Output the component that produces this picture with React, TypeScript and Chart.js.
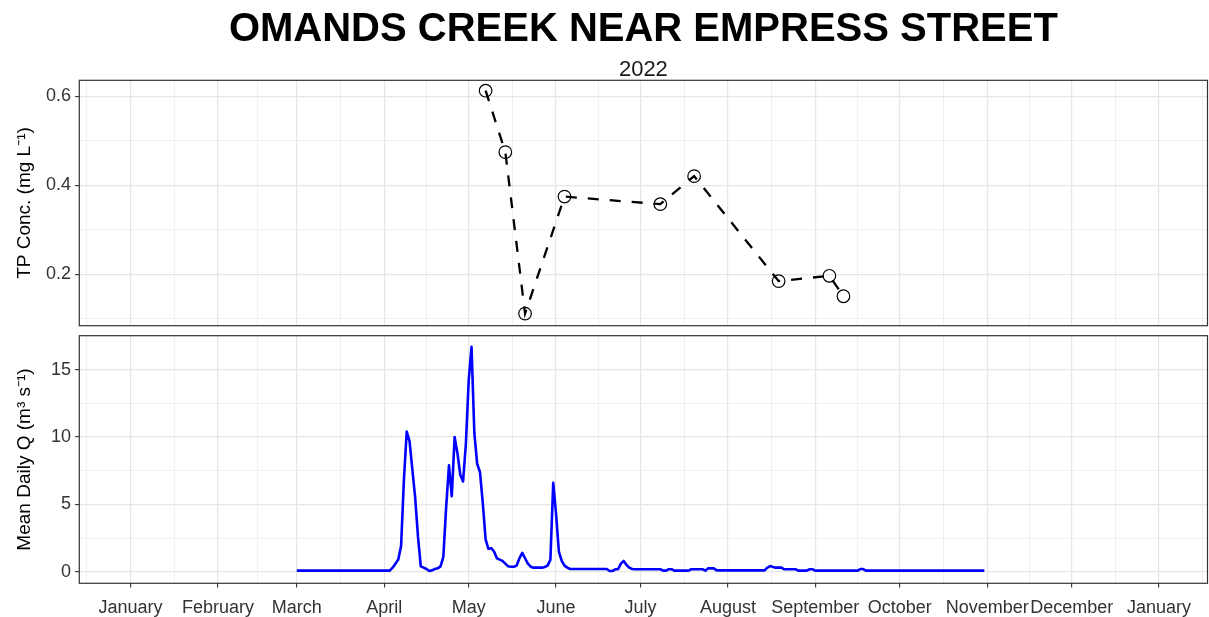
import React, { useEffect, useRef } from 'react';
import { Chart, registerables } from 'chart.js';

Chart.register(...registerables);

// ---------------- data ----------------
const TITLE = 'OMANDS CREEK NEAR EMPRESS STREET';
const SUBTITLE = '2022';
const TP_AXIS_TITLE = 'TP Conc. (mg L⁻¹)';
const Q_AXIS_TITLE = 'Mean Daily Q (m³ s⁻¹)';

const MONTH_LABELS = ['January', 'February', 'March', 'April', 'May', 'June', 'July', 'August', 'September', 'October', 'November', 'December', 'January'];
const MONTH_STARTS = ['2022-01-01', '2022-02-01', '2022-03-01', '2022-04-01', '2022-05-01', '2022-06-01', '2022-07-01', '2022-08-01', '2022-09-01', '2022-10-01', '2022-11-01', '2022-12-01', '2023-01-01'];
const OUTER_BREAKS = ['2021-12-01', '2023-02-01'];

const TP_DATES = ['2022-05-07', '2022-05-14', '2022-05-21', '2022-06-04', '2022-07-08', '2022-07-20', '2022-08-19', '2022-09-06', '2022-09-11'];
const TP_VALUES = [0.613, 0.475, 0.112, 0.375, 0.358, 0.421, 0.185, 0.197, 0.151];

const TP_Y_MAJOR = [0.2, 0.4, 0.6];
const TP_Y_MINOR = [0.1, 0.3, 0.5];
const Q_Y_MAJOR = [0, 5, 10, 15];
const Q_Y_MINOR = [2.5, 7.5, 12.5];

const FLOW_START = '2022-03-01';
const FLOW_VALUES = [
  // March 1 - April 2
  0.08, 0.08, 0.08, 0.08, 0.08, 0.08, 0.08, 0.08, 0.08, 0.08,
  0.08, 0.08, 0.08, 0.08, 0.08, 0.08, 0.08, 0.08, 0.08, 0.08,
  0.08, 0.08, 0.08, 0.08, 0.08, 0.08, 0.08, 0.08, 0.08, 0.08,
  0.08, 0.08, 0.08, 0.08,
  // April 3 onwards
  0.3, 0.6, 0.9, 1.9, 6.8, 10.4, 9.7, 7.6, 5.5, 2.6,
  0.4, 0.3, 0.2, 0.05, 0.1, 0.2, 0.25, 0.4, 1.1, 4.8,
  7.9, 5.6, 10.0, 8.8, 7.2, 6.7, 9.5, 14.2, 16.7, 10.3,
  8.0, 7.4, 5.1, 2.4, 1.7, 1.75, 1.5, 1.0, 0.9, 0.8,
  0.6, 0.4, 0.37, 0.37, 0.45, 1.0, 1.4, 1.0, 0.6, 0.37,
  0.3, 0.3, 0.3, 0.3, 0.35, 0.45, 0.9, 6.6, 4.3, 1.5,
  0.8, 0.45, 0.3,
  0.2, 0.2, 0.2, 0.2, 0.2, 0.2, 0.2, 0.2, 0.2, 0.2, 0.2, 0.2, 0.2, 0.2,
  0.05, 0.05, 0.18, 0.18, 0.6, 0.8, 0.5, 0.3, 0.2,
  0.18, 0.18, 0.18, 0.18, 0.18, 0.18, 0.18, 0.18, 0.18, 0.18,
  0.08, 0.08, 0.18, 0.18, 0.08, 0.08, 0.08, 0.08, 0.08, 0.08,
  0.18, 0.18, 0.18, 0.18, 0.18, 0.08, 0.25, 0.25, 0.25,
  0.1, 0.1, 0.1, 0.1, 0.1, 0.1, 0.1, 0.1, 0.1, 0.1, 0.1, 0.1, 0.1, 0.1, 0.1, 0.1, 0.1, 0.1,
  0.3, 0.42, 0.35, 0.3, 0.3, 0.3,
  0.18, 0.18, 0.18, 0.18, 0.18, 0.08, 0.08, 0.08, 0.08, 0.18, 0.18,
  0.08, 0.08, 0.08, 0.08, 0.08, 0.08, 0.08, 0.08, 0.08, 0.08, 0.08, 0.08, 0.08, 0.08, 0.08, 0.08,
  0.2, 0.2,
  0.08, 0.08, 0.08, 0.08, 0.08, 0.08, 0.08, 0.08, 0.08, 0.08,
  0.08, 0.08, 0.08, 0.08, 0.08, 0.08, 0.08, 0.08, 0.08, 0.08,
  0.08, 0.08, 0.08, 0.08, 0.08, 0.08, 0.08, 0.08, 0.08, 0.08,
  0.08, 0.08, 0.08, 0.08, 0.08, 0.08, 0.08, 0.08, 0.08, 0.08,
  0.08, 0.08, 0.08,
];

// ---------------- layout / style ----------------
const W = 1209;
const H = 617;
const FONT = '"Liberation Sans", Arial, Helvetica, sans-serif';
const PANEL_LEFT = 79.3;
const PANEL_RIGHT = 1207.5;
const TOP_CANVAS_H = 330;
const TOP_PANEL = { top: 80.3, bottom: 325.7 };
const BOT_CANVAS_TOP = 330;
const BOT_CANVAS_H = H - BOT_CANVAS_TOP;
const BOT_PANEL = { top: 335.7, bottom: 583.3 };
const X_MIN = -18.2;
const X_MAX = 382.2;
const TP_Y_MIN = 0.0848;
const TP_Y_MAX = 0.6364;
const Q_Y_MIN = -0.86;
const Q_Y_MAX = 17.52;

const GRID_MAJOR = '#E6E6E6';
const GRID_MINOR = '#ECECEC';
const TICK_COLOR = '#333333';
const LABEL_COLOR = '#333333';

const ORIGIN = Date.UTC(2022, 0, 1);
const dayOf = (s: string) => {
  const [y, m, d] = s.split('-').map(Number);
  return (Date.UTC(y, m - 1, d) - ORIGIN) / 86400000;
};

type T = { value: number; minor?: boolean; lbl?: string };

const xTicks = (): T[] => {
  const major = MONTH_STARTS.map(dayOf);
  const all = [dayOf(OUTER_BREAKS[0]), ...major, dayOf(OUTER_BREAKS[1])];
  const res: T[] = [];
  for (let i = 0; i < all.length - 1; i++) {
    res.push({ value: (all[i] + all[i + 1]) / 2, minor: true, lbl: '' });
  }
  major.forEach((v, i) => res.push({ value: v, minor: false, lbl: MONTH_LABELS[i] }));
  return res.sort((a, b) => a.value - b.value);
};

const yTicks = (major: number[], minor: number[]): T[] => {
  const res: T[] = [
    ...major.map((v) => ({ value: v, minor: false })),
    ...minor.map((v) => ({ value: v, minor: true })),
  ];
  return res.sort((a, b) => a.value - b.value);
};

const panelBorder = {
  id: 'panelBorder',
  afterDraw(chart: any) {
    const { ctx, chartArea } = chart;
    const { left, top, right, bottom } = chartArea;
    ctx.save();
    ctx.strokeStyle = '#333333';
    ctx.lineWidth = 1.2;
    ctx.strokeRect(left, top, right - left, bottom - top);
    ctx.restore();
  },
};

const isMinor = (c: any) => !!(c && c.tick && c.tick.minor);

const gridOpts = (drawTicks: boolean) => ({
  drawTicks,
  tickLength: 4.3,
  color: (c: any) => (isMinor(c) ? GRID_MINOR : GRID_MAJOR),
  lineWidth: (c: any) => (isMinor(c) ? 0.8 : 1.2),
  tickColor: (c: any) => (isMinor(c) ? 'rgba(0,0,0,0)' : TICK_COLOR),
  tickWidth: 1.1,
});

const fixY = (s: any) => {
  s.width = PANEL_LEFT;
  s.paddingTop = 0;
  s.paddingBottom = 0;
  s.paddingLeft = 0;
  s.paddingRight = 0;
};

const yAxis = (min: number, max: number, major: number[], minor: number[], title: string, fmt: (v: number) => string) => ({
  type: 'linear',
  min,
  max,
  afterBuildTicks: (s: any) => {
    s.ticks = yTicks(major, minor);
  },
  afterFit: fixY,
  grid: gridOpts(true),
  border: { display: false },
  ticks: {
    padding: 4,
    color: LABEL_COLOR,
    font: { family: FONT, size: 18 },
    callback: (v: number, i: number, ticks: any[]) => (ticks[i] && ticks[i].minor ? '' : fmt(v)),
  },
  title: {
    display: true,
    text: title,
    color: '#000000',
    font: { family: FONT, size: 19 },
    padding: { top: 13, bottom: 0 },
  },
});

export default function App() {
  const topRef = useRef<HTMLCanvasElement>(null);
  const botRef = useRef<HTMLCanvasElement>(null);

  useEffect(() => {
    const tpData = TP_DATES.map((d, i) => ({ x: dayOf(d), y: TP_VALUES[i] }));
    const start = dayOf(FLOW_START);
    const qData = FLOW_VALUES.map((v, i) => ({ x: start + i, y: v }));

    const top = new Chart(topRef.current as HTMLCanvasElement, {
      type: 'line',
      data: {
        datasets: [
          {
            data: tpData,
            borderColor: '#000000',
            borderWidth: 2.3,
            borderDash: [11, 11],
            borderCapStyle: 'butt',
            tension: 0,
            pointRadius: 6.3,
            pointBorderWidth: 1.2,
            pointBorderColor: '#000000',
            pointBackgroundColor: 'rgba(0,0,0,0)',
            pointHoverRadius: 6.3,
          },
        ],
      },
      options: {
        animation: false,
        responsive: false,
        maintainAspectRatio: false,
        layout: {
          autoPadding: false,
          padding: { top: TOP_PANEL.top, bottom: TOP_CANVAS_H - TOP_PANEL.bottom, left: 0, right: W - PANEL_RIGHT },
        },
        plugins: { legend: { display: false }, tooltip: { enabled: false } },
        scales: {
          x: {
            type: 'linear',
            min: X_MIN,
            max: X_MAX,
            afterBuildTicks: (s: any) => {
              s.ticks = xTicks();
            },
            afterFit: (s: any) => {
              s.height = 0;
              s.paddingLeft = 0;
              s.paddingRight = 0;
            },
            grid: gridOpts(false),
            border: { display: false },
            ticks: { display: false, autoSkip: false, maxRotation: 0 },
          },
          y: yAxis(TP_Y_MIN, TP_Y_MAX, TP_Y_MAJOR, TP_Y_MINOR, TP_AXIS_TITLE, (v) => v.toFixed(1)),
        },
      } as any,
      plugins: [panelBorder],
    });

    const bot = new Chart(botRef.current as HTMLCanvasElement, {
      type: 'line',
      data: {
        datasets: [
          {
            data: qData,
            borderColor: '#0000FF',
            borderWidth: 2.6,
            borderJoinStyle: 'round',
            tension: 0,
            pointRadius: 0,
            pointHoverRadius: 0,
          },
        ],
      },
      options: {
        animation: false,
        responsive: false,
        maintainAspectRatio: false,
        layout: {
          autoPadding: false,
          padding: { top: BOT_PANEL.top - BOT_CANVAS_TOP, bottom: 0, left: 0, right: W - PANEL_RIGHT },
        },
        plugins: { legend: { display: false }, tooltip: { enabled: false } },
        scales: {
          x: {
            type: 'linear',
            min: X_MIN,
            max: X_MAX,
            afterBuildTicks: (s: any) => {
              s.ticks = xTicks();
            },
            afterFit: (s: any) => {
              s.height = BOT_CANVAS_TOP + BOT_CANVAS_H - BOT_PANEL.bottom;
              s.paddingLeft = 0;
              s.paddingRight = 0;
            },
            grid: gridOpts(true),
            border: { display: false },
            ticks: {
              autoSkip: false,
              maxRotation: 0,
              minRotation: 0,
              padding: 10,
              color: LABEL_COLOR,
              font: { family: FONT, size: 18 },
              callback: (_v: number, i: number, ticks: any[]) => (ticks[i] ? ticks[i].lbl || '' : ''),
            },
          },
          y: yAxis(Q_Y_MIN, Q_Y_MAX, Q_Y_MAJOR, Q_Y_MINOR, Q_AXIS_TITLE, (v) => String(v)),
        },
      } as any,
      plugins: [panelBorder],
    });

    return () => {
      top.destroy();
      bot.destroy();
    };
  }, []);

  return (
    <div style={{ position: 'absolute', left: 0, top: 0, width: W, height: H, background: '#ffffff', overflow: 'hidden' }}>
      <canvas ref={topRef} width={W} height={TOP_CANVAS_H} style={{ position: 'absolute', left: 0, top: 0, width: W, height: TOP_CANVAS_H }} />
      <canvas ref={botRef} width={W} height={BOT_CANVAS_H} style={{ position: 'absolute', left: 0, top: BOT_CANVAS_TOP, width: W, height: BOT_CANVAS_H }} />
      <div
        style={{
          position: 'absolute',
          left: PANEL_LEFT,
          width: PANEL_RIGHT - PANEL_LEFT,
          top: 7,
          textAlign: 'center',
          fontFamily: FONT,
          fontWeight: 'bold',
          fontSize: 40,
          lineHeight: '40px',
          color: '#000000',
          whiteSpace: 'nowrap',
        }}
      >
        {TITLE}
      </div>
      <div
        style={{
          position: 'absolute',
          left: PANEL_LEFT,
          width: PANEL_RIGHT - PANEL_LEFT,
          top: 58,
          textAlign: 'center',
          fontFamily: FONT,
          fontSize: 22,
          lineHeight: '22px',
          color: '#1a1a1a',
          whiteSpace: 'nowrap',
        }}
      >
        {SUBTITLE}
      </div>
    </div>
  );
}
